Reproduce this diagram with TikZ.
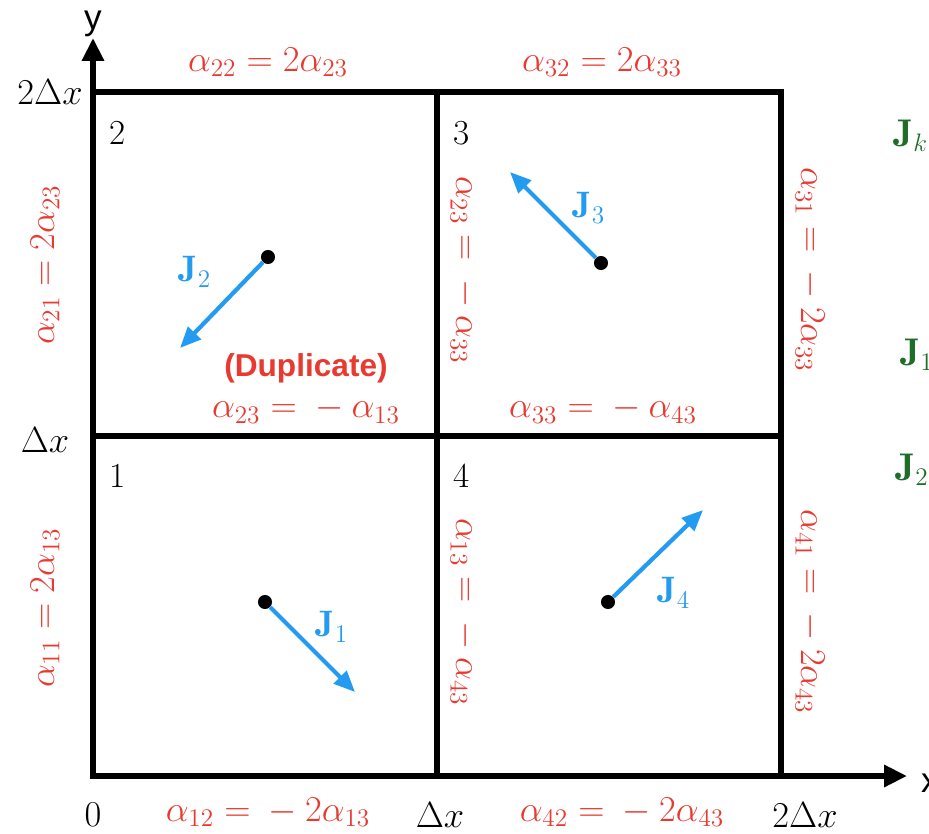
\documentclass[tikz,border=0pt]{standalone}
\usepackage{fontspec}
\newfontfamily\labelsans{Liberation Sans}
\usetikzlibrary{arrows.meta, positioning}
\definecolor{eqred}{RGB}{232,58,48}
\definecolor{fluxblue}{RGB}{35,155,240}
\definecolor{darkgreen}{RGB}{30,110,40}

\begin{document}
\begin{tikzpicture}[x=0.02cm, y=0.02cm,
                gridline/.style={line width=3.2pt, black},
                axis/.style={line width=3.2pt, -{Triangle[length=13pt, width=12pt]}},
                eq/.style={text=eqred, font=\fontsize{21.5}{25}\selectfont, inner sep=1pt},
                tick/.style={font=\fontsize{20}{24}\selectfont, inner sep=1pt},
                cellno/.style={font=\fontsize{20}{24}\selectfont, inner sep=1pt},
                flux/.style={-{Triangle[length=12pt, width=10pt]}, line width=2.4pt, fluxblue},
                centre/.style={circle, fill=black, inner sep=0pt, minimum size=8pt},
                fluxlabel/.style={text=fluxblue, font=\fontsize{21}{25}\selectfont, inner sep=1pt},
                legend/.style={text=darkgreen, font=\fontsize{22}{26}\selectfont, anchor=west, inner sep=0pt}
            ]
                \clip (0,0) rectangle (929,833);
                \useasboundingbox (0,0) rectangle (929,833);

                % grid corners
                \coordinate (o) at (93,57);
                \coordinate (xmid) at (437,57);
                \coordinate (xend) at (781,57);
                \coordinate (ymid) at (93,397);
                \coordinate (yend) at (93,741);
                \coordinate (c) at (437,397);
                \coordinate (tr) at (781,741);

                \draw[gridline] (o) rectangle (tr);
                \draw[gridline] (ymid) -- (ymid -| tr);
                \draw[gridline] (xmid) -- (xmid |- tr);

                % axes
                \coordinate (xtip) at (907,57);
                \coordinate (ytip) at (93,795);
                \draw[axis] (o) -- (xtip);
                \draw[axis] (o) -- (ytip);
                \node[font=\labelsans\fontsize{20}{24}\selectfont] (ylab) at (93,809) {y};
                \node[font=\labelsans\fontsize{20}{24}\selectfont, anchor=west] (xlab) at (915,50) {x};

                % ticks
                \node[tick] (t0) at (93,18) {$0$};
                \node[tick] (t1) at (440,18) {$\Delta x$};
                \node[tick] (t2) at (805,18) {$2\Delta x$};
                \node[tick] (l1) at (45,393) {$\Delta x$};
                \node[tick] (l2) at (50,741) {$2\Delta x$};

                % cell numbers
                \node[cellno] (n1) at (118,357) {1};
                \node[cellno] (n2) at (118,700) {2};
                \node[cellno] (n3) at (462,700) {3};
                \node[cellno] (n4) at (462,357) {4};

                % boundary relations
                \node[eq] (a22) at (268,771) {$\alpha_{22} = 2\alpha_{23}$};
                \node[eq] (a32) at (602,771) {$\alpha_{32} = 2\alpha_{33}$};
                \node[eq] (a12) at (268,21) {$\alpha_{12} = {}-2\alpha_{13}$};
                \node[eq] (a42) at (622,21) {$\alpha_{42} = {}-2\alpha_{43}$};
                \node[eq, rotate=90] (a21) at (45,568) {$\alpha_{21} = 2\alpha_{23}$};
                \node[eq, rotate=90] (a11) at (45,225) {$\alpha_{11} = 2\alpha_{13}$};
                \node[eq, rotate=-90] (a23) at (464,563) {$\alpha_{23} = {}-\alpha_{33}$};
                \node[eq, rotate=-90] (a13) at (464,221) {$\alpha_{13} = {}-\alpha_{43}$};
                \node[eq, rotate=-90] (a31) at (810,563) {$\alpha_{31} = {}-2\alpha_{33}$};
                \node[eq, rotate=-90] (a41) at (810,221) {$\alpha_{41} = {}-2\alpha_{43}$};
                \node[eq] (a23b) at (306,423) {$\alpha_{23} = {}-\alpha_{13}$};
                \node[eq] (a33) at (603,423) {$\alpha_{33} = {}-\alpha_{43}$};
                \node[text=eqred, font=\labelsans\bfseries\fontsize{18}{21}\selectfont, above=3pt of a23b] (dup) {(Duplicate)};

                % fluxes
                \node[centre] (p1) at (265,231) {};
                \node[centre] (p2) at (268,576) {};
                \node[centre] (p3) at (601,570) {};
                \node[centre] (p4) at (608,231) {};
                \coordinate (q1) at (355,141);
                \coordinate (q2) at (180,485);
                \coordinate (q3) at (510,661);
                \coordinate (q4) at (703,323);
                \draw[flux] (p1) -- (q1);
                \draw[flux] (p2) -- (q2);
                \draw[flux] (p3) -- (q3);
                \draw[flux] (p4) -- (q4);
                \node[fluxlabel] (j1) at (332,206) {$\mathbf{J}_1$};
                \node[fluxlabel] (j2) at (195,561) {$\mathbf{J}_2$};
                \node[fluxlabel] (j3) at (589,625) {$\mathbf{J}_3$};
                \node[fluxlabel] (j4) at (674,240) {$\mathbf{J}_4$};

                % legend (cut off at the edge)
                \node[legend] (jk) at (893,697) {$\mathbf{J}_k$};
                \node[legend] (jone) at (900,478) {$\mathbf{J}_1$};
                \node[legend] (jtwo) at (895,363) {$\mathbf{J}_2$};
            \end{tikzpicture}
\end{document}
